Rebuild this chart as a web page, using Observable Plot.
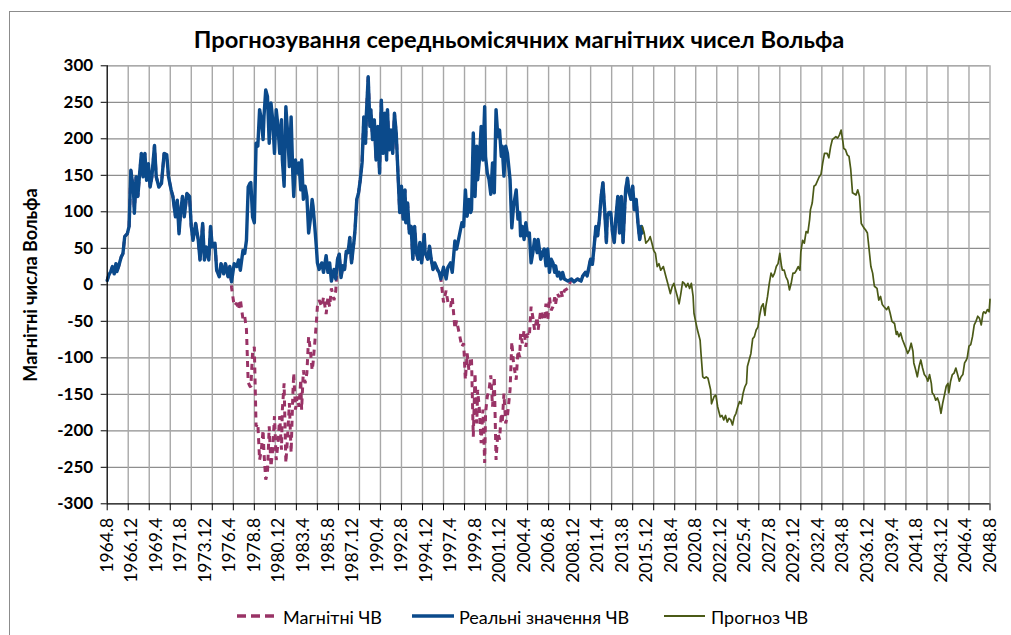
<!DOCTYPE html>
<html>
<head>
<meta charset="utf-8">
<script src="https://cdn.jsdelivr.net/npm/d3@7"></script>
<script src="https://cdn.jsdelivr.net/npm/@observablehq/plot@0.6"></script>
<style>
  body { margin: 0; background: #fff; font-family: Lato, "Open Sans", sans-serif; }
  #wrap { position: relative; width: 1011px; height: 635px; overflow: hidden; background: #fff; }
  #frame { position: absolute; left: 9px; top: 11px; width: 1200px; height: 800px;
           border-left: 1.5px solid #8c8c8c; border-top: 1.5px solid #8c8c8c; box-sizing: border-box; }
  #title { position: absolute; left: 0; width: 1038px; top: 25px; text-align: center;
           font-weight: bold; font-size: 23.7px; color: #000; white-space: nowrap; }
  #ylabel { position: absolute; left: 30px; top: 285px; transform: translate(-50%, -50%) rotate(-90deg);
            font-weight: bold; font-size: 18px; white-space: nowrap; color: #000; }
  #chart { position: absolute; left: 0; top: 0; }
  .leg { position: absolute; top: 606px; font-size: 18px; color: #000; white-space: nowrap; line-height: 22px; }
  .legsvg { position: absolute; top: 606px; }
</style>
</head>
<body>
<div id="wrap">
  <div id="frame"></div>
  <div id="chart"></div>
  <div id="title"></div>
  <div id="ylabel"></div>
  <div id="legend"></div>
</div>
<script>
// ---- texts ----
const titleText = "Прогнозування середньомісячних магнітних чисел Вольфа";
const yLabelText = "Магнітні числа Вольфа";
const seriesNames = ["Магнітні ЧВ", "Реальні значення ЧВ", "Прогноз ЧВ"];

// ---- time base: months counted from 1964.8 ----
const startYear = 1964, startMonth = 8;
const lastMonth = 1008;          // 2048.8
const gridStepMonths = 24;
const labelStepMonths = 28;
const yTicks = d3.range(-300, 301, 50);

// ---- real monthly Wolf numbers (month offset, value) ----
const realMonths = [
  0,2,4,6,8,10,11,13,16,18,
  20,23,25,27,30,31,33,35,37,39,
  41,43,45,47,49,51,54,56,59,62,
  65,68,70,73,75,78,80,82,84,86,
  88,91,94,96,98,101,104,106,109,111,
  113,116,118,120,123,125,128,130,133,135,
  138,140,142,145,148,150,152,155,157,159,
  161,163,164,166,168,170,172,174,176,178,
  179,181,183,185,187,189,191,193,195,197,
  199,200,202,204,206,208,210,212,213,215,
  217,219,221,222,224,226,228,230,232,234,
  235,237,239,240,242,245,247,250,252,254,
  256,259,261,263,265,267,269,271,273,275,
  277,279,282,283,285,287,289,291,293,295,
  296,298,300,301,303,305,307,309,311,313,
  315,317,319,320,322,324,326,328,330,332,
  334,336,338,340,341,343,345,347,349,351,
  353,355,357,359,362,363,366,368,370,372,
  374,377,379,381,384,387,389,392,394,397,
  399,402,405,407,409,411,413,415,416,418,
  420,422,423,425,427,429,431,432,434,436,
  438,440,442,444,446,448,450,451,453,455,
  457,460,462,464,467,469,471,472,474,476,
  478,480,482,484,486,488,491,492,495,497,
  499,501,503,505,507,509,511,512,514,516,
  518,520,522,526,530,533,537,541,543,546,
  548,551,552,554,556,558,560,562,564,566,
  568,570,571,573,575,577,579,581,583,585,
  587,589,591,592,594,596,598,600,602,604,
  606,608,610,611
];
const realValues = [
  6,14,18,25,15,29,18,25,38,43,
  66,70,80,157,130,98,148,121,152,180,
  148,180,143,166,134,148,191,148,134,139,
  180,178,148,130,121,93,116,70,102,121,
  93,125,121,80,61,84,61,34,84,34,
  52,34,80,52,57,20,11,29,15,29,
  11,25,4,29,25,34,20,47,43,61,
  134,139,140,93,85,194,190,240,226,199,
  230,267,258,194,249,226,180,240,217,180,
  226,171,135,244,208,162,230,149,121,171,
  153,167,130,171,117,135,121,71,90,117,
  108,80,49,30,21,30,17,40,17,30,
  5,21,8,35,42,10,26,21,46,44,
  65,30,62,76,117,126,144,167,230,194,
  235,285,217,240,199,226,171,217,153,253,
  180,235,171,240,185,212,180,235,208,153,
  99,135,90,130,85,112,71,80,35,80,
  44,35,58,30,69,44,35,53,35,21,
  30,21,17,8,24,8,24,30,17,60,
  49,67,85,80,130,94,117,99,103,208,
  121,190,144,171,217,171,244,176,153,144,
  124,167,126,240,203,212,176,190,149,190,
  180,144,78,108,130,90,99,67,80,62,
  85,67,71,30,44,62,44,62,35,44,
  49,26,49,17,35,30,17,26,12,17,
  8,17,8,5,8,4,8,5,12,17,
  12,30,35,28,53,80,67,90,121,140,
  103,58,94,99,99,71,58,94,121,71,
  121,58,108,130,146,126,117,135,103,117,
  85,62,80,71
];

// ---- even cycles whose magnetic sign is negative (month offset ranges) ----
const negativeCycleStart = [142, 384];
const negativeCycleEnd   = [261, 528];

// ---- forecast (month offset, value) ----
const forecastMonths = [
  611,613,615,618,620,622,624,626,628,630,
  632,635,638,640,643,645,647,649,651,653,
  655,657,659,661,663,665,667,669,670,672,
  674,677,678,680,682,684,686,689,690,693,
  695,697,700,702,704,706,708,710,712,714,
  716,718,720,722,724,726,728,730,731,733,
  735,737,739,741,743,745,747,749,751,752,
  754,756,758,760,762,764,766,768,770,771,
  773,775,777,779,781,783,785,787,789,791,
  792,794,796,798,800,802,803,805,807,809,
  813,815,817,819,822,824,826,828,830,832,
  834,836,838,840,841,843,845,847,849,851,
  855,857,859,861,864,866,868,870,872,874,
  876,879,881,883,885,887,890,892,894,896,
  899,901,902,904,906,908,912,914,916,918,
  920,921,923,925,927,929,931,933,935,937,
  939,941,942,944,946,948,950,952,954,956,
  958,960,961,963,965,967,969,971,973,975,
  977,979,981,982,984,986,988,990,992,994,
  996,998,1000,1001,1003,1005,1007,1008
];
const forecastValues = [
  80,72,57,61,66,57,47,43,25,29,
  20,25,11,2,-12,-3,2,-7,-16,-26,
  -12,4,2,-3,2,-5,2,-16,-39,-51,
  -62,-76,-94,-126,-128,-126,-128,-144,-163,-153,
  -151,-167,-181,-179,-185,-179,-188,-183,-185,-192,
  -181,-176,-167,-160,-163,-149,-140,-135,-112,-103,
  -94,-74,-71,-62,-58,-42,-30,-26,-42,-30,
  -16,2,16,11,16,25,29,43,25,20,
  20,11,6,-7,2,16,16,20,25,20,
  45,61,57,73,71,89,103,112,135,137,
  148,151,167,180,180,174,189,199,201,203,
  201,205,212,196,187,185,178,176,158,126,
  123,130,121,84,78,75,71,48,25,16,
  -2,-5,-21,-16,-27,-30,-34,-30,-39,-50,
  -53,-68,-64,-71,-66,-75,-87,-94,-89,-80,
  -91,-107,-116,-126,-112,-103,-114,-123,-126,-132,
  -123,-135,-148,-151,-158,-155,-162,-176,-162,-151,
  -139,-135,-148,-132,-123,-121,-114,-123,-132,-126,
  -123,-107,-103,-100,-84,-82,-71,-55,-50,-43,
  -46,-55,-39,-37,-39,-34,-37,-20
];

// ---- colours ----
const colMagnetic = "#993366", colReal = "#0b4a8b", colForecast = "#4b5a17";

// ---- build tables ----
const real = realMonths.map((t, i) => ({t, v: realValues[i]}));
const isNegative = t => negativeCycleStart.some((s, i) => t >= s && t <= negativeCycleEnd[i]);
const magnetic = real.map(d => ({t: d.t, v: isNegative(d.t) ? -d.v : d.v}));
const forecast = forecastMonths.map((t, i) => ({t, v: forecastValues[i]}));

const fmtMonth = t => { const m = startMonth - 1 + t; return `${startYear + Math.floor(m / 12)}.${m % 12 + 1}`; };
const fmtY = d => d < 0 ? "-" + (-d) : String(d);
const gridTicks = d3.range(0, lastMonth + 1, gridStepMonths);
const labelTicks = d3.range(0, lastMonth + 1, labelStepMonths);

const chart = Plot.plot({
  width: 1011, height: 635,
  marginLeft: 106.7, marginRight: 21.5, marginTop: 65.3, marginBottom: 131.7,
  style: {fontFamily: "Lato, sans-serif", fontSize: "17px", color: "#000", background: "transparent", overflow: "visible"},
  x: {domain: [0, lastMonth], label: null},
  y: {domain: [-300, 300], label: null},
  marks: [
    Plot.ruleY(yTicks.filter(v => v > -300), {stroke: "#8e8e8e", strokeWidth: 1.2}),
    Plot.ruleX(gridTicks.slice(1), {stroke: "#a8a8a8", strokeWidth: 1.4}),
    Plot.line(magnetic, {x: "t", y: "v", stroke: colMagnetic, strokeWidth: 3, strokeDasharray: "6,5", strokeLinejoin: "miter", strokeLinecap: "butt"}),
    Plot.line(real, {x: "t", y: "v", stroke: colReal, strokeWidth: 3.4}),
    Plot.line(forecast, {x: "t", y: "v", stroke: colForecast, strokeWidth: 1.7}),
    Plot.ruleX([0], {stroke: "#000", strokeWidth: 1.3}),
    Plot.ruleY([-300], {stroke: "#000", strokeWidth: 1.3}),
    Plot.axisY(yTicks, {tickSize: 6, tickPadding: 8, tickFormat: fmtY, fontWeight: "bold", fontSize: 17, label: null}),
    Plot.axisX(gridTicks, {tickSize: 7, tickFormat: () => "", label: null}),
    Plot.axisX(labelTicks, {tickSize: 0, tickPadding: 14, tickRotate: -90, tickFormat: fmtMonth, fontSize: 17.5, label: null})
  ]
});
document.getElementById("chart").appendChild(chart);
document.getElementById("title").textContent = titleText;
document.getElementById("ylabel").textContent = yLabelText;

// ---- legend ----
const legend = document.getElementById("legend");
const legendItems = [
  {name: seriesNames[0], color: colMagnetic, width: 3.5, dash: "9,5", x0: 237, x1: 274, tx: 283},
  {name: seriesNames[1], color: colReal, width: 3.4, dash: null, x0: 412, x1: 454, tx: 459},
  {name: seriesNames[2], color: colForecast, width: 1.8, dash: null, x0: 664, x1: 705, tx: 711}
];
for (const it of legendItems) {
  const svg = d3.create("svg").attr("class", "legsvg").attr("width", it.x1 - it.x0).attr("height", 20)
    .style("left", it.x0 + "px");
  svg.append("line").attr("x1", 0).attr("x2", it.x1 - it.x0).attr("y1", 10).attr("y2", 10)
    .attr("stroke", it.color).attr("stroke-width", it.width).attr("stroke-dasharray", it.dash);
  legend.appendChild(svg.node());
  const span = document.createElement("span");
  span.className = "leg"; span.style.left = it.tx + "px"; span.textContent = it.name;
  legend.appendChild(span);
}
</script>
</body>
</html>
